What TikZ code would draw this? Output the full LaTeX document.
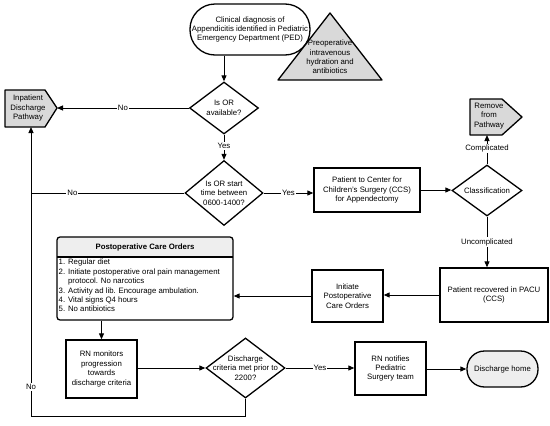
\documentclass[tikz,border=0pt]{standalone}
\usepackage{fontspec}
\setmainfont{Liberation Sans}
\usetikzlibrary{arrows.meta,shapes.geometric}
\definecolor{pgray}{HTML}{D9D9D9}
\definecolor{lgray}{HTML}{EEEEEE}
\begin{document}
\begin{tikzpicture}[x=1pt,y=-1pt,
  every node/.style={font=\fontsize{7.8}{9.4}\selectfont},
  box/.style={draw, line width=1.3pt, align=center, inner sep=1pt},
  dia/.style={draw, diamond, line width=1.3pt, inner sep=0pt},
  txt/.style={align=center, inner sep=0pt},
  shp/.style={draw, line width=1.3pt, fill=pgray, line join=round},
  arr/.style={line width=1pt, -{Triangle[length=6pt,width=5pt]}},
  ln/.style={line width=1pt},
  lbl/.style={fill=white, inner sep=1pt}]
\useasboundingbox (0,0) rectangle (550,426);

% start
\node[box, rounded corners=25pt, minimum width=120pt, minimum height=51pt] (start) at (250,29.5)
  {Clinical diagnosis of\\Appendicitis identified in Pediatric\\Emergency Department (PED)};
% triangle
\draw[shp] (330,13) -- (382,80) -- (278,80) -- cycle;
\node[txt] (tri) at (330,57) {Preoperative\\intravenous\\hydration and\\antibiotics};

% inpatient pentagon
\draw[shp] (5,90) -- (45,90) -- (57,108) -- (45,127) -- (5,127) -- cycle;
\coordinate (inptip) at (57,108);
\coordinate (inpbot) at (31,127);
\node[txt] (inp) at (28,108) {Inpatient\\Discharge\\Pathway};

% remove pentagon
\draw[shp] (470,99) -- (502,99) -- (522,117) -- (502,135) -- (470,135) -- cycle;
\coordinate (rembot) at (487,135);
\node[txt] (rem) at (489,116) {Remove\\from\\Pathway};

% diamonds
\node[dia, minimum width=69pt, minimum height=52pt] (d1) at (224,108) {};
\node[txt] (d1t) at (d1) {Is OR\\available?};
\node[dia, minimum width=78pt, minimum height=65pt] (d2) at (224,193) {};
\node[txt] (d2t) at (d2) {Is OR start\\time between\\0600-1400?};
\node[dia, minimum width=70pt, minimum height=51pt] (cls) at (487,190.5) {};
\node[txt] (clst) at (cls) {Classification};
\node[dia, minimum width=79pt, minimum height=60pt] (d3) at (245.5,368) {};
\node[txt] (d3t) at (d3) {Discharge\\criteria met prior to\\2200?};

% boxes
\node[box, minimum width=106pt, minimum height=44pt] (ccs) at (367,190)
  {Patient to Center for\\Children's Surgery (CCS)\\for Appendectomy};
\node[box, minimum width=108pt, minimum height=54pt] (pacu) at (494,295)
  {Patient recovered in PACU\\(CCS)};
\node[box, minimum width=71pt, minimum height=52pt] (init) at (347.5,296)
  {Initiate\\Postoperative\\Care Orders};
\node[draw, line width=1.3pt, rounded corners=3pt, minimum width=176pt, minimum height=83pt,
  path picture={\fill[lgray] (path picture bounding box.north west) rectangle ([yshift=-20pt]path picture bounding box.north east);
  \draw[line width=1.2pt] ([yshift=-20pt]path picture bounding box.north west) -- ([yshift=-20pt]path picture bounding box.north east);}]
  (post) at (145,278.5) {};
\node[txt, font=\fontsize{7.8}{9.4}\selectfont\bfseries] (postt) at (145,247) {Postoperative Care Orders};
\node[txt, align=left, anchor=north west] (items) at (58.5,259)
  {1. Regular diet\\2. Initiate postoperative oral pain management\\\phantom{2. }protocol. No narcotics\\3. Activity ad lib. Encourage ambulation.\\4. Vital signs Q4 hours\\5. No antibiotics};
\node[box, minimum width=71pt, minimum height=58pt] (rnm) at (101.5,369)
  {RN monitors\\progression\\towards\\discharge criteria};
\node[box, minimum width=71pt, minimum height=53pt] (rnn) at (390.5,368.5)
  {RN notifies\\Pediatric\\Surgery team};
\node[box, rounded corners=17.5pt, fill=lgray, minimum width=71pt, minimum height=36pt] (home) at (502.5,369)
  {Discharge home};

% connectors
\draw[arr] (start.south -| d1.north) -- (d1.north);
\draw[arr] (d1.west) -- (inptip) node[lbl, midway] (l1) {No};
\draw[arr] (d1.south) -- (d2.north) node[lbl, pos=0.45] (l2) {Yes};
\draw[ln] (d2.west) -- (d2.west -| inpbot) node[lbl, pos=0.73] (l3) {No};
\draw[arr] (d2.east) -- (d2.east -| ccs.west) node[lbl, midway] (l4) {Yes};
\draw[arr] (ccs.east) -- (ccs.east -| cls.west);
\draw[arr] (cls.north) -- (rembot) node[lbl, pos=0.55] (l5) {Complicated};
\draw[arr] (cls.south) -- (cls.south |- pacu.north) node[lbl, midway] (l6) {Uncomplicated};
\draw[arr] (pacu.west) -- (pacu.west -| init.east);
\draw[arr] (init.west) -- (init.west -| post.east);
\draw[arr] (rnm.north |- post.south) -- (rnm.north);
\draw[arr] (rnm.east |- d3.west) -- (d3.west);
\draw[arr] (d3.east) -- (d3.east -| rnn.west) node[lbl, midway] (l7) {Yes};
\draw[arr] (rnn.east |- home.west) -- (home.west);
\draw[arr] (d3.south) -- ++(0,18) -| (inpbot);
\node[lbl] (l8) at (31,387) {No};
\end{tikzpicture}
\end{document}
